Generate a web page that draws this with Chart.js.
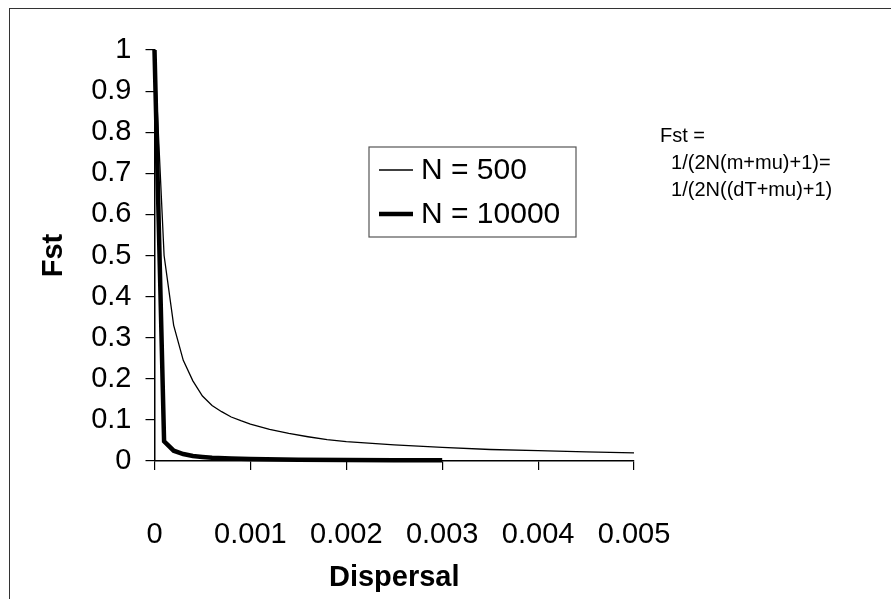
<!DOCTYPE html>
<html>
<head>
<meta charset="utf-8">
<script src="https://cdn.jsdelivr.net/npm/chart.js@4.4.1/dist/chart.umd.min.js"></script>
<style>
    html, body { margin: 0; padding: 0; background: #fff; overflow: hidden; }
    #wrap { position: relative; width: 891px; height: 599px; }
    #marco { position: absolute; left: 9px; top: 8px; width: 900px; height: 620px; border-left: 1.5px solid #333; border-top: 1.5px solid #333; }
    #formula { position: absolute; left: 660px; top: 122px; font-family: "Liberation Sans", Arial, sans-serif; font-size: 20px; line-height: 27px; color: #000; white-space: pre; }
    canvas { position: absolute; left: 0; top: 0; }
</style>
</head>
<body>
<div id="wrap">
    <div id="marco"></div>
    <canvas id="grafica" width="891" height="599"></canvas>
    <div id="formula">Fst =
  1/(2N(m+mu)+1)=
  1/(2N((dT+mu)+1)</div>
</div>
<script>
// valores
const dispersal500 = [0, 0.0001, 0.0002, 0.0003, 0.0004, 0.0005, 0.0006, 0.0007, 0.0008, 0.0009, 0.001,
    0.0012, 0.0014, 0.0016, 0.0018, 0.002, 0.0025, 0.003, 0.0035, 0.004, 0.0045, 0.005];
const fst500 = [1, 0.5, 0.33, 0.245, 0.195, 0.158, 0.135, 0.12, 0.107, 0.098, 0.09,
    0.077, 0.067, 0.059, 0.052, 0.047, 0.039, 0.033, 0.028, 0.025, 0.022, 0.02];

const dispersal10000 = [0, 0.0001, 0.0002, 0.0003, 0.0004, 0.0005, 0.0006, 0.0008, 0.001, 0.0015, 0.002, 0.0025, 0.003];
const fst10000 = [1, 0.048, 0.025, 0.017, 0.012, 0.01, 0.008, 0.006, 0.005, 0.0033, 0.0025, 0.002, 0.0017];

const etiquetas = ["N = 500", "N = 10000"];
const grosores = [1.3, 4.5];

const FUENTE = "'Liberation Sans', Arial, sans-serif";
const PAD_IZQ = 33;

function puntos(xs, ys) {
    return xs.map((x, i) => ({ x, y: ys[i] }));
}

// leyenda en recuadro dentro del área de la gráfica
const leyendaPlugin = {
    id: "leyendaCaja",
    afterDraw(chart) {
        const ctx = chart.ctx;
        ctx.save();
        ctx.strokeStyle = "#555";
        ctx.lineWidth = 1.2;
        ctx.strokeRect(369, 147, 207, 90);
        ctx.font = "30px " + FUENTE;
        ctx.fillStyle = "#000";
        ctx.textBaseline = "middle";
        const filas = [170, 214];
        chart.data.datasets.forEach((ds, i) => {
            ctx.beginPath();
            ctx.lineWidth = ds.borderWidth;
            ctx.strokeStyle = "#000";
            ctx.moveTo(379, filas[i]);
            ctx.lineTo(413, filas[i]);
            ctx.stroke();
            ctx.fillText(ds.label, 421, filas[i] + 1);
        });
        ctx.restore();
    },
};

new Chart(document.getElementById("grafica"), {
    type: "line",
    data: {
        datasets: [
            {
                label: etiquetas[0],
                data: puntos(dispersal500, fst500),
                borderColor: "#000",
                borderWidth: grosores[0],
                pointRadius: 0,
                tension: 0,
                clip: 4,
            },
            {
                label: etiquetas[1],
                data: puntos(dispersal10000, fst10000),
                borderColor: "#000",
                borderWidth: grosores[1],
                pointRadius: 0,
                tension: 0,
                clip: 4,
            },
        ],
    },
    options: {
        responsive: false,
        animation: false,
        devicePixelRatio: 1,
        layout: { padding: { left: PAD_IZQ, right: 257, top: 50, bottom: 0 } },
        scales: {
            x: {
                type: "linear",
                min: 0,
                max: 0.005,
                afterFit: (s) => { s.height = 599 - 461; },
                ticks: {
                    stepSize: 0.001,
                    color: "#000",
                    padding: 48,
                    maxRotation: 0,
                    font: { family: FUENTE, size: 29 },
                    callback: (v) => (v === 0 ? "0" : v.toFixed(3)),
                },
                grid: { drawOnChartArea: false, tickLength: 9, color: "#000", lineWidth: 1.2 },
                border: { color: "#000", width: 1.5 },
                title: { display: true, text: "Dispersal", color: "#000", font: { family: FUENTE, size: 29, weight: "bold" } },
            },
            y: {
                min: 0,
                max: 1,
                afterFit: (s) => { s.width = 154.5 - PAD_IZQ; },
                ticks: {
                    stepSize: 0.1,
                    color: "#000",
                    padding: 14,
                    font: { family: FUENTE, size: 29 },
                    callback: (v) => (v === 0 || v === 1 ? String(v) : v.toFixed(1)),
                },
                grid: { drawOnChartArea: false, tickLength: 9, color: "#000", lineWidth: 1.2 },
                border: { color: "#000", width: 1.5 },
                title: { display: true, text: "Fst", color: "#000", font: { family: FUENTE, size: 29, weight: "bold" } },
            },
        },
        plugins: {
            legend: { display: false },
            tooltip: { enabled: false },
        },
    },
    plugins: [leyendaPlugin],
});
</script>
</body>
</html>
